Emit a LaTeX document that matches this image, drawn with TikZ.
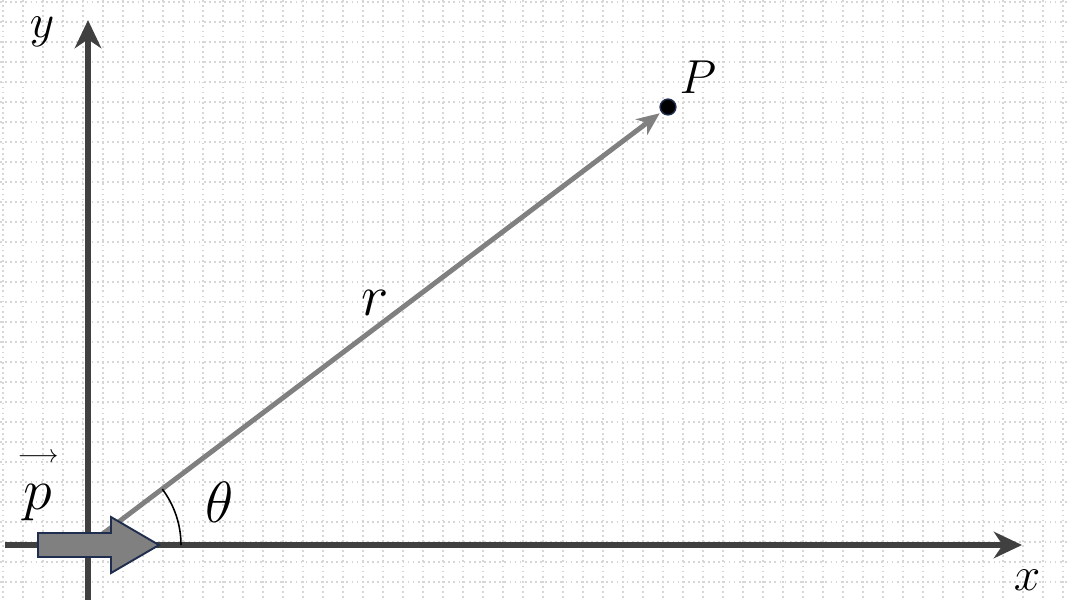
\documentclass[tikz,border=0pt]{standalone}
\usepackage{amsmath}
\usepackage{graphicx}
\usepackage{tikz}
\usetikzlibrary{arrows.meta}

\definecolor{axisgray}{HTML}{404040}
\definecolor{vecgray}{HTML}{808080}
\definecolor{gridgray}{HTML}{D6D6D6}
\definecolor{navyline}{HTML}{1F2E4E}

\newcommand{\lblmath}[1]{\scalebox{1.09}{\Huge$#1$}}
\newcommand{\biglblmath}[1]{\scalebox{1.33}{\Huge$#1$}}

\begin{document}
\begin{tikzpicture}[
  x=0.02cm, y=-0.02cm,
  >=Stealth,
  gridline/.style={gridgray, line width=1pt, dash pattern=on 1pt off 1.9pt},
  axis/.style={axisgray, line width=3.4pt, -{Stealth[length=16pt,width=15pt,inset=5pt]}},
  vec/.style={vecgray, line width=2.8pt, -{Stealth[length=13pt,width=11pt,inset=4pt]}},
  blockarrow/.style={fill=vecgray, draw=navyline, line width=1.1pt, line join=miter},
  lbl/.style={inner sep=0pt, anchor=base}
]
\useasboundingbox (0,0) rectangle (1067,600);
\fill[white] (0,0) rectangle (1067,600);

% ---- dotted background grid ----
\foreach \gx in {3,23,...,1063}
  \draw[gridline] (\gx,0) -- (\gx,600);
\foreach \gy in {2,22,...,600}
  \draw[gridline] (0,\gy) -- (1067,\gy);

% ---- axes ----
\coordinate (O) at (88,545);
\coordinate (xstart) at (5,545);
\coordinate (xend) at (1022,545);
\coordinate (ystart) at (88,600);
\coordinate (yend) at (88,20);
\draw[axis] (xstart) -- (xend);
\draw[axis] (ystart) -- (yend);

% ---- point P and vector r ----
\node[circle, fill=black, draw=navyline, line width=0.8pt, inner sep=0pt, minimum size=9pt] (P) at (668,107) {};
\draw[vec, shorten >=1pt] (O) -- (P);

% ---- momentum block arrow ----
\filldraw[blockarrow] (38,533) -- (111,533) -- (111,517) -- (159,545)
  -- (111,573) -- (111,557) -- (38,557) -- cycle;

% ---- angle ----
\draw[black, line width=0.9pt] (181,545) arc[start angle=0, end angle=37, radius=1.86cm];

% ---- labels ----
\node[lbl] (ylab) at (42,37) {\lblmath{y}};
\node[lbl] (xlab) at (1027,590) {\lblmath{x}};
\node[lbl] (Plab) at (698,93) {\lblmath{P}};
\node[lbl] (rlab) at (375,315) {\biglblmath{r}};
\node[lbl] (thlab) at (220,522) {\biglblmath{\theta}};
\node[lbl, label={[inner sep=0pt, label distance=12pt]above:{\fontsize{14}{14}\selectfont$\longrightarrow$}}] (plab) at (38,509) {\biglblmath{p}};

\end{tikzpicture}
\end{document}
